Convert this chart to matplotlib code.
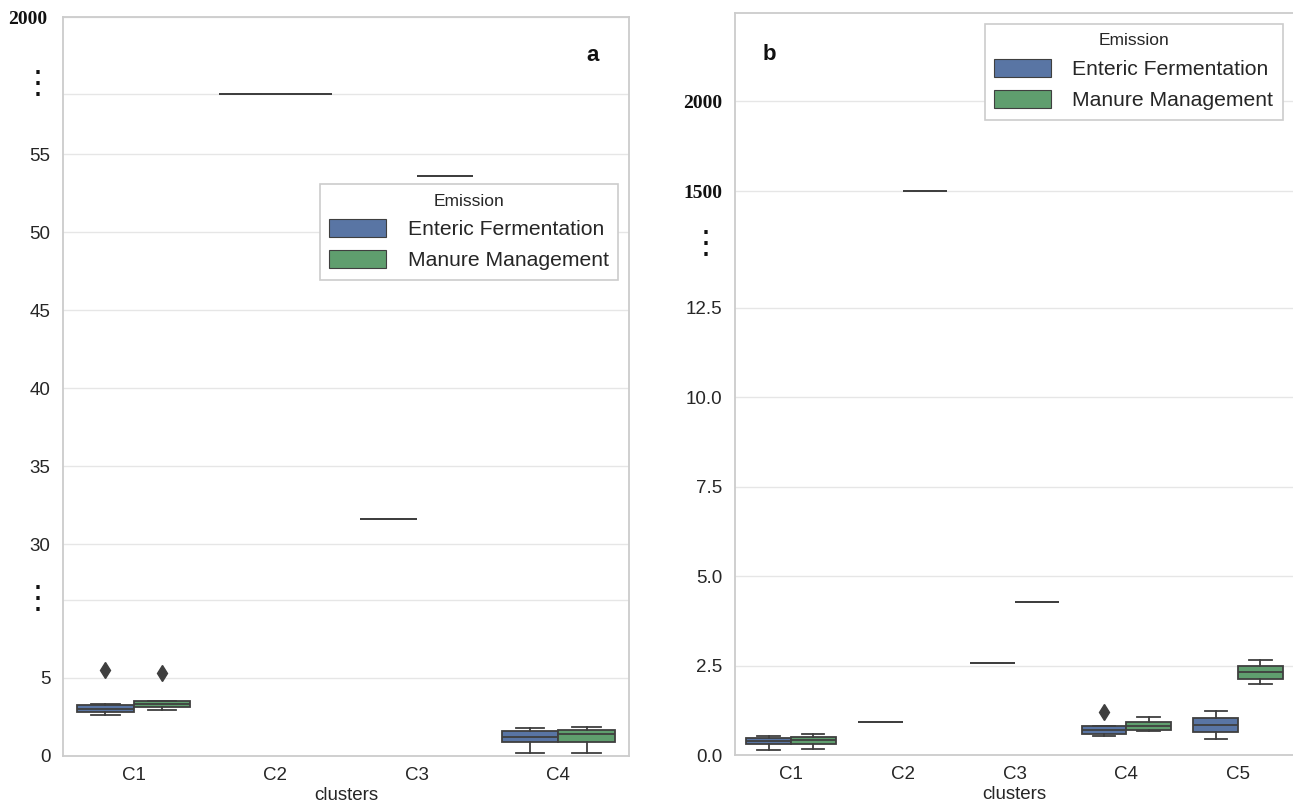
import numpy as np
import matplotlib
matplotlib.use("Agg")
import matplotlib.pyplot as plt
from matplotlib.patches import Patch

plt.rcParams['font.family'] = ['Liberation Sans', 'DejaVu Sans']

# ---------------- data ----------------
hues = ["Enteric Fermentation", "Manure Management"]
colors = ["#5975a4", "#5f9e6e"]

# Panel a
cats_a = ["C1", "C2", "C3", "C4"]
a_ent_q1 = [2.79, 1500, 31.6, 0.89]
a_ent_med = [3.04, 1500, 31.6, 1.23]
a_ent_q3 = [3.30, 1500, 31.6, 1.60]
a_ent_lo = [2.62, 1500, 31.6, 0.17]
a_ent_hi = [3.32, 1500, 31.6, 1.81]
a_ent_fl = [[5.49], [], [], []]
a_man_q1 = [3.11, 1500, 53.6, 0.89]
a_man_med = [3.36, 1500, 53.6, 1.40]
a_man_q3 = [3.53, 1500, 53.6, 1.66]
a_man_lo = [2.96, 1500, 53.6, 0.17]
a_man_hi = [3.55, 1500, 53.6, 1.85]
a_man_fl = [[5.34], [], [], []]
a_ticks = [0, 5, 10, 30, 35, 40, 45, 50, 55, 1500, 2000]
a_labels = ["0", "5", "", "30", "35", "40", "45", "50", "55", "", "2000"]

# Panel b
cats_b = ["C1", "C2", "C3", "C4", "C5"]
b_ent_q1 = [0.32, 0.93, 2.59, 0.59, 0.64]
b_ent_med = [0.40, 0.93, 2.59, 0.70, 0.86]
b_ent_q3 = [0.48, 0.93, 2.59, 0.81, 1.04]
b_ent_lo = [0.15, 0.93, 2.59, 0.53, 0.45]
b_ent_hi = [0.55, 0.93, 2.59, 0.81, 1.24]
b_ent_fl = [[], [], [], [1.21], []]
b_man_q1 = [0.32, 1500, 4.27, 0.70, 2.13]
b_man_med = [0.42, 1500, 4.27, 0.81, 2.32]
b_man_q3 = [0.52, 1500, 4.27, 0.92, 2.49]
b_man_lo = [0.18, 1500, 4.27, 0.67, 1.98]
b_man_hi = [0.59, 1500, 4.27, 1.06, 2.65]
b_man_fl = [[], [], [], [], []]
b_ticks = [0.0, 2.5, 5.0, 7.5, 10.0, 12.5, 1500, 2000]
b_labels = ["0.0", "2.5", "5.0", "7.5", "10.0", "12.5", "1500", "2000"]

# broken-axis breakpoints (value -> relative position)
a_break_vals = [0, 10, 30, 55, 1500, 2000]
a_break_pos = [0, 156, 211.7, 601.7, 661.7, 739]
b_break_vals = [0, 12.5, 1500, 2000, 2490]
b_break_pos = [0, 447.3, 564, 654, 742]

# ---------------- style ----------------
EDGE = "#3f3f3f"
SPINE = "#cccccc"
GRID = "#e6e6e6"
TXT = "#262626"

fig = plt.figure(figsize=(12.93, 8.08), dpi=100)
ax_a = fig.add_axes([63/1293, 1-756/808, 566/1293, 739/808])
ax_b = fig.add_axes([735/1293, 1-755.3/808, 559/1293, 742.3/808])


def make_stats(q1, med, q3, lo, hi, fl):
    return [dict(q1=a, med=b, q3=c, whislo=d, whishi=e, fliers=f, label="")
            for a, b, c, d, e, f in zip(q1, med, q3, lo, hi, fl)]


def draw(ax, cats, series, bvals, bpos, ticks, labels, ylim):
    fwd = lambda v: np.interp(v, bvals, bpos)
    inv = lambda p: np.interp(p, bpos, bvals)
    ax.set_yscale("function", functions=(fwd, inv))
    n = len(cats)
    for j, (stats, col) in enumerate(zip(series, colors)):
        pos = np.arange(n) + (j - 0.5) * 0.4
        ax.bxp(stats, positions=pos, widths=0.4, patch_artist=True,
               capwidths=0.2, manage_ticks=False,
               boxprops=dict(facecolor=col, edgecolor=EDGE, linewidth=1.3),
               medianprops=dict(color=EDGE, linewidth=1.3),
               whiskerprops=dict(color=EDGE, linewidth=1.3),
               capprops=dict(color=EDGE, linewidth=1.3),
               flierprops=dict(marker="d", markersize=8, markerfacecolor=EDGE,
                               markeredgecolor=EDGE, linestyle="none"))
    ax.set_xlim(-0.5, n - 0.5)
    ax.set_ylim(*ylim)
    ax.set_xticks(np.arange(n))
    ax.set_xticklabels(cats)
    ax.set_yticks(ticks)
    ax.set_yticklabels(labels)
    ax.minorticks_off()
    ax.set_axisbelow(True)
    ax.grid(axis="y", color=GRID, linewidth=1.0)
    ax.grid(axis="x", visible=False)
    for s in ax.spines.values():
        s.set_color(SPINE)
        s.set_linewidth(1.3)
    ax.tick_params(axis="both", length=0, labelsize=13.5, colors=TXT)
    ax.tick_params(axis="y", pad=9)
    ax.tick_params(axis="x", pad=8)
    ax.set_xlabel("clusters", fontsize=13.5, color=TXT, labelpad=2)


series_a = [make_stats(a_ent_q1, a_ent_med, a_ent_q3, a_ent_lo, a_ent_hi, a_ent_fl),
            make_stats(a_man_q1, a_man_med, a_man_q3, a_man_lo, a_man_hi, a_man_fl)]
series_b = [make_stats(b_ent_q1, b_ent_med, b_ent_q3, b_ent_lo, b_ent_hi, b_ent_fl),
            make_stats(b_man_q1, b_man_med, b_man_q3, b_man_lo, b_man_hi, b_man_fl)]

draw(ax_a, cats_a, series_a, a_break_vals, a_break_pos, a_ticks, a_labels, (0, 2000))
draw(ax_b, cats_b, series_b, b_break_vals, b_break_pos, b_ticks, b_labels, (0, 2490))

# serif labels for the large values
for ax, ticks in ((ax_a, a_ticks), (ax_b, b_ticks)):
    for t, lab in zip(ticks, ax.get_yticklabels()):
        if t >= 1500:
            lab.set_fontfamily("Liberation Serif")
            lab.set_fontweight("bold")
            lab.set_fontsize(14)
            lab.set_color("#111111")
for t, lab in zip(a_ticks, ax_a.get_yticklabels()):
    if t == 2000:
        lab.set_x(-0.005)

# break marks (vertical dots)
dot_kw = dict(transform=fig.transFigure, ha="center", va="center",
              fontsize=23, color="#111111", family="DejaVu Sans")
fig.text(38/1293, 1-600/808, "\u22ee", **dot_kw)
fig.text(38/1293, 1-85/808, "\u22ee", **dot_kw)
fig.text(706/1293, 1-245/808, "\u22ee", **dot_kw)

# panel letters
ax_a.text(0.935, 0.948, "a", transform=ax_a.transAxes, fontsize=16,
          fontweight="bold", ha="center", va="center", color="#111111")
ax_b.text(0.061, 0.944, "b", transform=ax_b.transAxes, fontsize=16,
          fontweight="bold", ha="center", va="center", color="#111111")

# legends
handles = [Patch(facecolor=c, edgecolor=EDGE, linewidth=0.8, label=h)
           for c, h in zip(colors, hues)]
for ax, anchor in ((ax_a, (0.9806, 0.774)), (ax_b, (0.980, 0.9856))):
    leg = ax.legend(handles=handles, title="Emission", loc="upper right",
                    bbox_to_anchor=anchor, borderaxespad=0, fontsize=15.2,
                    title_fontsize=12.5, fancybox=False, framealpha=1,
                    edgecolor=SPINE, handlelength=2.7, handleheight=0.95,
                    handletextpad=1.0, labelspacing=0.5, borderpad=0.45)
    leg.get_frame().set_linewidth(1.2)
    leg.get_title().set_color(TXT)
    for t in leg.get_texts():
        t.set_color(TXT)

fig.savefig("out.png", dpi=100)
